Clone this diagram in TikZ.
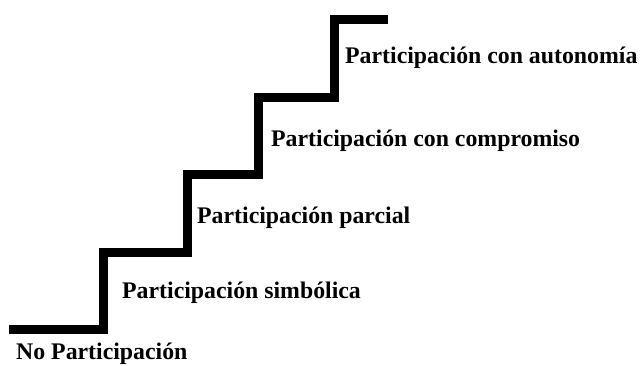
\documentclass[tikz,border=0pt]{standalone}
\usepackage{fontspec}
\setmainfont{Liberation Serif}
\begin{document}
\begin{tikzpicture}[x=1pt,y=-1pt,
  lbl/.style={anchor=base west,inner sep=0pt,font=\fontsize{23.8}{28}\selectfont\bfseries},
  stair/.style={line width=9pt,line join=miter,line cap=butt}]
\useasboundingbox (0,0) rectangle (641,365);
\coordinate (s0) at (9,329.5);
\coordinate (s1) at (103.5,329.5);
\coordinate (s2) at (103.5,252.5);
\coordinate (s3) at (187.5,252.5);
\coordinate (s4) at (187.5,174.5);
\coordinate (s5) at (258.5,174.5);
\coordinate (s6) at (258.5,97.5);
\coordinate (s7) at (334.5,97.5);
\coordinate (s8) at (334.5,19.5);
\coordinate (s9) at (388,19.5);
\draw[stair] (s0) -- (s1) -- (s2) -- (s3) -- (s4) -- (s5) -- (s6) -- (s7) -- (s8) -- (s9);
\node[lbl] (l0) at (16,359.5) {No Participación};
\node[lbl] (l1) at (122,298) {Participación simbólica};
\node[lbl] (l2) at (197,223) {Participación parcial};
\node[lbl] (l3) at (271,146) {Participación con compromiso};
\node[lbl] (l4) at (345,63) {Participación con autonomía};
\end{tikzpicture}
\end{document}
